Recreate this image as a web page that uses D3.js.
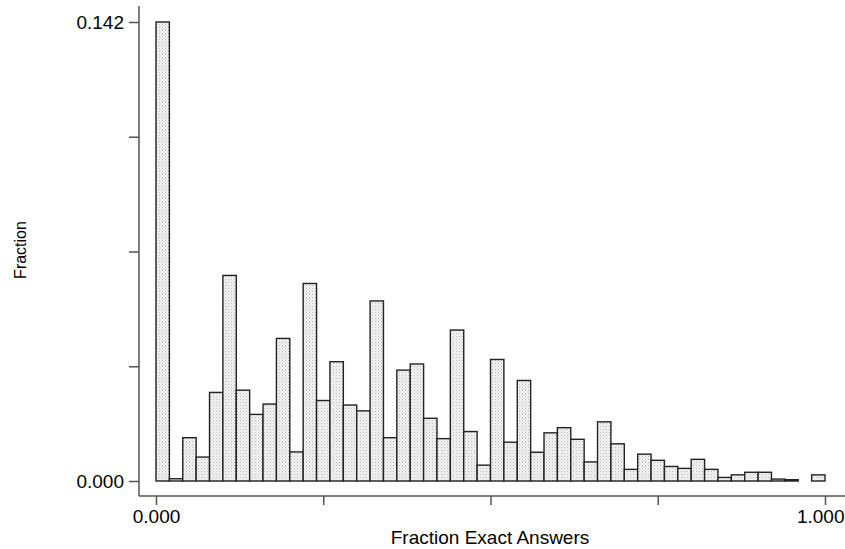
<!DOCTYPE html>
<html>
<head>
<meta charset="utf-8">
<script src="https://cdn.jsdelivr.net/npm/d3@7"></script>
<style>
html,body{margin:0;padding:0;background:#fff;}
svg{display:block;font-family:"Liberation Sans",Arial,Helvetica,sans-serif;}
</style>
</head>
<body>
<svg id="chart" width="845" height="549"></svg>
<script>
// Histogram of fraction exact answers: 50 bins of width 0.02 on [0,1]
const binStarts = d3.range(0, 50).map(i => i / 50);
const binWidth = 0.02;
const fractions = [
  0.1420, 0.0007, 0.0134, 0.0074, 0.0274, 0.0636, 0.0281, 0.0206, 0.0238, 0.0441,
  0.0090, 0.0611, 0.0249, 0.0369, 0.0235, 0.0217, 0.0557, 0.0134, 0.0343, 0.0362,
  0.0194, 0.0131, 0.0467, 0.0153, 0.0049, 0.0376, 0.0120, 0.0311, 0.0089, 0.0149,
  0.0165, 0.0129, 0.0059, 0.0183, 0.0115, 0.0036, 0.0083, 0.0064, 0.0045, 0.0039,
  0.0067, 0.0036, 0.0011, 0.0019, 0.0027, 0.0027, 0.0006, 0.0004, 0.0000, 0.0019
];
const yTicks = [0, 0.0355, 0.071, 0.1065, 0.142];
const yTickLabels = ["0.000", "", "", "", "0.142"];
const xTicks = [0, 0.25, 0.5, 0.75, 1];
const xTickLabels = ["0.000", "", "", "", "1.000"];
const xTitle = "Fraction Exact Answers";
const yTitle = "Fraction";

const W = 845;
const svg = d3.select("#chart");
const x = d3.scaleLinear().domain([0, 1]).range([156, 825]);
const y = d3.scaleLinear().domain([0, 0.142]).range([481, 22]);

// dotted fill pattern
const defs = svg.append("defs");
const pat = defs.append("pattern").attr("id", "dots")
  .attr("patternUnits", "userSpaceOnUse").attr("width", 3).attr("height", 3);
pat.append("rect").attr("width", 3).attr("height", 3).attr("fill", "#f3f3f3");
pat.append("rect").attr("x", 0).attr("y", 0).attr("width", 1).attr("height", 1).attr("fill", "#b8b8b8");
pat.append("rect").attr("x", 1.5).attr("y", 1.5).attr("width", 1).attr("height", 1).attr("fill", "#cfcfcf");

const data = binStarts.map((s, i) => ({ s, v: fractions[i] })).filter(d => d.v > 0);

svg.append("g").selectAll("rect").data(data).join("rect")
  .attr("x", d => x(d.s))
  .attr("width", d => x(d.s + binWidth) - x(d.s))
  .attr("y", d => y(d.v))
  .attr("height", d => y(0) - y(d.v))
  .attr("fill", "url(#dots)")
  .attr("stroke", "#222")
  .attr("stroke-width", 1.4);

// Y axis
const yAxis = d3.axisLeft(y).tickValues(yTicks).tickSize(10).tickPadding(5)
  .tickFormat((d, i) => yTickLabels[i]);
const gy = svg.append("g").attr("transform", "translate(139,0)").call(yAxis);
gy.select(".domain").remove();
gy.append("line").attr("x1", 0).attr("x2", 0).attr("y1", 6).attr("y2", 496)
  .attr("stroke", "#555").attr("stroke-width", 1.5);
gy.selectAll(".tick line").attr("stroke", "#555").attr("stroke-width", 1.5);
gy.selectAll(".tick text").attr("fill", "#000").style("font-size", "19px")
  .style("font-family", "Liberation Sans, Arial, sans-serif");

// X axis
const xAxis = d3.axisBottom(x).tickValues(xTicks).tickSize(9).tickPadding(5)
  .tickFormat((d, i) => xTickLabels[i]);
const gx = svg.append("g").attr("transform", "translate(0,496)").call(xAxis);
gx.select(".domain").remove();
gx.append("line").attr("x1", 139).attr("x2", W).attr("y1", 0).attr("y2", 0)
  .attr("stroke", "#555").attr("stroke-width", 1.5);
gx.selectAll(".tick line").attr("stroke", "#555").attr("stroke-width", 1.5);
gx.selectAll(".tick text").attr("fill", "#000").style("font-size", "19px")
  .style("font-family", "Liberation Sans, Arial, sans-serif");
// keep the right-most label inside the page
gx.selectAll(".tick text").filter(d => d === 1)
  .attr("text-anchor", "end").attr("x", W - 1 - x(1));

// Titles
svg.append("text").attr("x", 490).attr("y", 544).attr("text-anchor", "middle")
  .style("font-size", "19px").attr("fill", "#000").text(xTitle);
svg.append("text").attr("transform", "translate(26,250) rotate(-90)")
  .attr("text-anchor", "middle").style("font-size", "16px").attr("fill", "#000").text(yTitle);
</script>
</body>
</html>
